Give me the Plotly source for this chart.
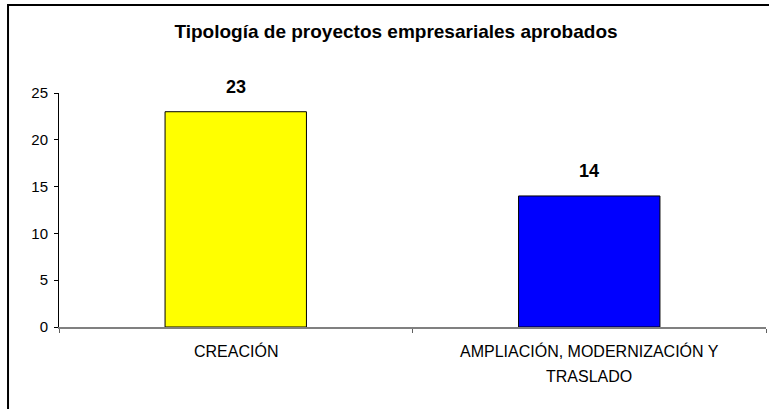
import plotly.graph_objects as go

categories = ["CREACIÓN", "AMPLIACIÓN, MODERNIZACIÓN Y<br>TRASLADO"]
values = [23, 14]
colors = ["#FFFF00", "#0000FF"]
title_text = "Tipología de proyectos empresariales aprobados"
y_ticks = [0, 5, 10, 15, 20, 25]

FONT = "Liberation Sans, Arial, sans-serif"

fig = go.Figure()
fig.add_trace(go.Bar(
    x=categories, y=values,
    marker=dict(color=colors, line=dict(color="black", width=1)),
    hoverinfo="skip",
))

# value labels above bars
for c, v in zip(categories, values):
    fig.add_annotation(x=c, y=v, text="<b>%d</b>" % v, showarrow=False,
                       yanchor="bottom", yshift=13,
                       font=dict(family=FONT, size=18, color="black"))

# category labels (one annotation per line for Excel-like line spacing)
for c in categories:
    for i, line in enumerate(c.split("<br>")):
        fig.add_annotation(x=c, y=0, text=line, showarrow=False,
                           yanchor="middle", yshift=-24 - 25 * i,
                           font=dict(family=FONT, size=16, color="black"))

# outer border (left + top)
fig.add_shape(type="path", xref="paper", yref="paper",
              path="M -0.0721,-0.5 L -0.0721,1.376 L 1.1,1.376",
              line=dict(color="black", width=2))

fig.update_layout(
    width=769, height=409,
    margin=dict(l=59, r=3, t=93, b=82),
    paper_bgcolor="white", plot_bgcolor="white",
    bargap=0.6,
    showlegend=False,
    title=dict(text="<b>%s</b>" % title_text, x=396 / 769, xanchor="center",
               y=1 - 31 / 409, yanchor="middle", yref="container",
               font=dict(family=FONT, size=19, color="black")),
    font=dict(family=FONT, color="black"),
)
fig.update_xaxes(
    showline=True, linecolor="#808080", linewidth=1.5,
    ticks="outside", tickson="boundaries", ticklen=4, tickcolor="#606060",
    showticklabels=False,
    showgrid=False, zeroline=False, fixedrange=True,
)
fig.update_yaxes(
    range=[0, 25], tickvals=y_ticks,
    showline=True, linecolor="black", linewidth=1,
    ticks="outside", ticklen=4, tickcolor="black",
    tickfont=dict(family=FONT, size=15, color="black"),
    ticklabelstandoff=3,
    showgrid=False, zeroline=False, fixedrange=True,
)

fig.write_html("out.html", config={"displayModeBar": False},
               post_script="document.body.style.margin='0';")
